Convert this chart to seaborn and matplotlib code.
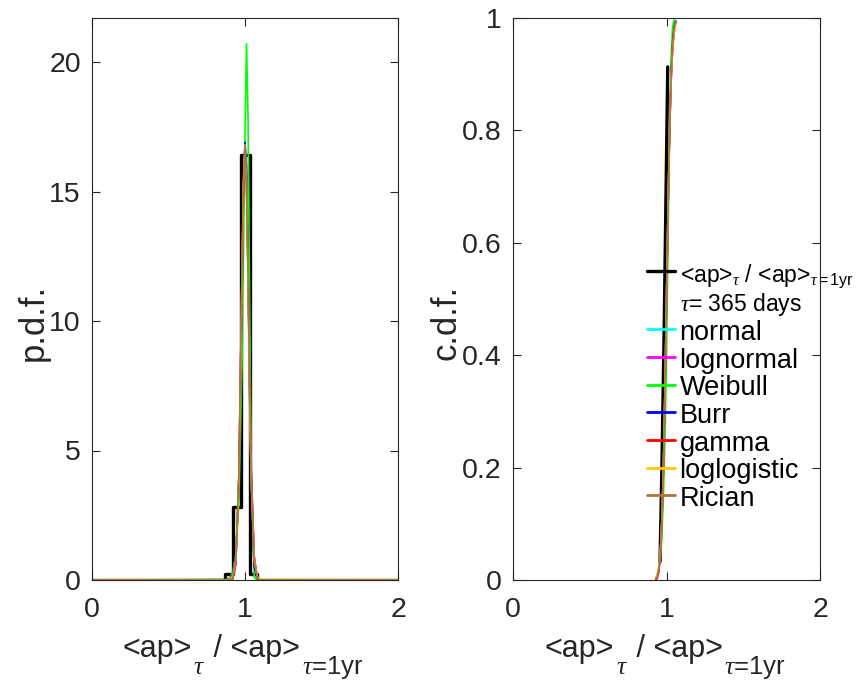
import matplotlib
matplotlib.use("Agg")
import matplotlib.pyplot as plt
from matplotlib.lines import Line2D
import seaborn as sns

# ---- data ----
hist_edges = [0.0, 0.872, 0.923, 0.974, 1.030, 1.080, 2.0]
hist_heights = [0.0, 0.22, 2.8, 16.4, 0.22, 0.0, 0.0]

pdf_x = [0, 0.88, 0.90, 0.92, 0.94, 0.96, 0.98, 0.99, 1.00, 1.01, 1.02, 1.03, 1.04, 1.06, 1.08, 1.10, 2]
normal_pdf = [0, 0, 0.003, 0.065, 0.73, 4.1, 11.7, 15.2, 16.6, 15.2, 11.7, 7.6, 4.1, 0.73, 0.065, 0.003, 0]
lognormal_pdf = [0, 0, 0.001, 0.04, 0.6, 3.9, 11.8, 15.6, 16.8, 15.4, 12.0, 7.9, 4.5, 0.95, 0.11, 0.007, 0]
weibull_pdf = [0, 0.02, 0.08, 0.3, 1.0, 3.0, 8.2, 12.5, 17.3, 20.7, 17.8, 11.0, 4.5, 0.1, 0, 0, 0]
burr_pdf = [0, 0.01, 0.04, 0.2, 0.9, 3.6, 10.5, 15.0, 16.9, 16.0, 12.0, 7.2, 3.6, 0.5, 0.05, 0.005, 0]
gamma_pdf = [0, 0, 0.002, 0.05, 0.65, 4.0, 11.8, 15.4, 16.7, 15.3, 11.9, 7.8, 4.3, 0.85, 0.09, 0.005, 0]
loglogistic_pdf = [0, 0.005, 0.03, 0.15, 0.8, 3.7, 11.0, 15.3, 16.8, 15.3, 11.3, 7.0, 3.9, 0.8, 0.12, 0.02, 0]
rician_pdf = [0, 0, 0.003, 0.065, 0.73, 4.1, 11.7, 15.2, 16.8, 15.2, 11.7, 7.6, 4.1, 0.73, 0.065, 0.003, 0]

emp_cdf_x = [0.958, 0.970, 0.985, 1.000, 1.008]
emp_cdf_y = [0.033, 0.20, 0.45, 0.75, 0.913]

cdf_x = [0.93, 0.94, 0.95, 0.96, 0.97, 0.98, 0.99, 1.00, 1.01, 1.02, 1.03, 1.04, 1.05, 1.06]
normal_cdf = [0.002, 0.006, 0.019, 0.048, 0.106, 0.20, 0.34, 0.50, 0.66, 0.80, 0.894, 0.952, 0.981, 0.994]
lognormal_cdf = [0.0, 0.003, 0.014, 0.042, 0.10, 0.20, 0.34, 0.50, 0.66, 0.79, 0.885, 0.945, 0.977, 0.992]
weibull_cdf = [0.003, 0.01, 0.02, 0.04, 0.08, 0.15, 0.25, 0.40, 0.60, 0.80, 0.93, 0.985, 0.999, 1.0]
burr_cdf = [0.002, 0.008, 0.02, 0.05, 0.11, 0.20, 0.33, 0.49, 0.66, 0.80, 0.90, 0.957, 0.984, 0.995]
gamma_cdf = [0.001, 0.005, 0.017, 0.046, 0.104, 0.20, 0.34, 0.50, 0.66, 0.80, 0.89, 0.949, 0.979, 0.993]
loglogistic_cdf = [0.004, 0.01, 0.024, 0.052, 0.11, 0.20, 0.34, 0.50, 0.66, 0.80, 0.89, 0.945, 0.972, 0.986]
rician_cdf = [0.002, 0.006, 0.019, 0.048, 0.106, 0.20, 0.34, 0.50, 0.66, 0.80, 0.894, 0.952, 0.981, 0.994]

fit_names = ["normal", "lognormal", "Weibull", "Burr", "gamma", "loglogistic", "Rician"]
fit_colors = ["#00ffff", "#ff00ff", "#00ff00", "#0000ff", "#ff0000", "#ffc800", "#a8773f"]
fit_pdfs = [normal_pdf, lognormal_pdf, weibull_pdf, burr_pdf, gamma_pdf, loglogistic_pdf, rician_pdf]
fit_cdfs = [normal_cdf, lognormal_cdf, weibull_cdf, burr_cdf, gamma_cdf, loglogistic_cdf, rician_cdf]

pdf_yticks = [0, 5, 10, 15, 20]
cdf_yticks = [0, 0.2, 0.4, 0.6, 0.8, 1]
cdf_yticklabels = ["0", "0.2", "0.4", "0.6", "0.8", "1"]
x_ticks = [0, 1, 2]

xlabel_parts = ["<ap>", r"$\tau$", " / <ap>", r"$\tau$=1yr"]
ylabels = ["p.d.f.", "c.d.f."]
emp_label_main = r"<ap>$_{\tau}$ / <ap>$_{\tau\mathrm{=1yr}}$"
emp_label_sub = r"$\tau$= 365 days"

# ---- style ----
sns.set_style("white")
plt.rcParams["font.family"] = ["Liberation Sans", "DejaVu Sans"]
plt.rcParams["mathtext.fontset"] = "custom"
plt.rcParams["mathtext.it"] = "Liberation Serif:italic"
plt.rcParams["mathtext.rm"] = "Liberation Sans"

fig = plt.figure(figsize=(8.6, 6.86), dpi=100)
ax1 = fig.add_axes([92 / 860, 1 - 580 / 686, (398 - 92) / 860, (580 - 18) / 686])
ax2 = fig.add_axes([513 / 860, 1 - 580 / 686, (820 - 513) / 860, (580 - 18) / 686])

axis_color = "#262626"

# left: pdf
sns.lineplot(x=hist_edges, y=hist_heights, ax=ax1, color="black", linewidth=2.4,
             drawstyle="steps-post", estimator=None, sort=False)
for name, col, ys in zip(fit_names, fit_colors, fit_pdfs):
    sns.lineplot(x=pdf_x, y=ys, ax=ax1, color=col, linewidth=1.2, estimator=None, sort=False)

# right: cdf
sns.lineplot(x=emp_cdf_x, y=emp_cdf_y, ax=ax2, color="black", linewidth=2.4,
             estimator=None, sort=False)
for name, col, ys in zip(fit_names, fit_colors, fit_cdfs):
    sns.lineplot(x=cdf_x, y=ys, ax=ax2, color=col, linewidth=1.2, estimator=None, sort=False)


def draw_xlabel(ax, x0, y0, main_size=22, sub_size=18.5, sub_drop=-12):
    prev = None
    for i, part in enumerate(xlabel_parts):
        is_sub = (i % 2 == 1)
        if prev is None:
            xyc = ("axes fraction", "axes fraction")
            xy = (x0, y0)
        else:
            xyc = (prev, "axes fraction")
            xy = (1, y0)
        dx = 1 if is_sub else 0
        dy = sub_drop if is_sub else 0
        prev = ax.annotate(part, xy=xy, xycoords=xyc, xytext=(dx, dy),
                           textcoords="offset points", ha="left", va="baseline",
                           fontsize=sub_size if is_sub else main_size,
                           color=axis_color, annotation_clip=False)


for ax, yl, lx in zip((ax1, ax2), ylabels, (-0.137, -0.163)):
    ax.set_xlim(0, 2)
    ax.set_xticks(x_ticks)
    ax.set_xticklabels([str(t) for t in x_ticks])
    for sp in ax.spines.values():
        sp.set_visible(True)
        sp.set_color(axis_color)
        sp.set_linewidth(0.8)
    ax.tick_params(direction="in", length=6, width=0.8, colors=axis_color,
                   labelsize=20.5, top=True, right=True, bottom=True, left=True)
    ax.tick_params(axis="x", pad=12)
    ax.tick_params(axis="y", pad=8)
    ax.set_xlabel("")
    ax.set_ylabel(yl, fontsize=25, color=axis_color)
    ax.yaxis.set_label_coords(lx, 0.459)

draw_xlabel(ax1, 0.10, -0.137)
draw_xlabel(ax2, 0.104, -0.137)

ax1.set_ylim(0, (580 - 18) / 25.9)
ax1.set_yticks(pdf_yticks)

ax2.set_ylim(0, 1)
ax2.set_yticks(cdf_yticks)
ax2.set_yticklabels(cdf_yticklabels)

handles = [Line2D([], [], color="black", linewidth=2.4),
           Line2D([], [], linestyle="none")]
labels = [emp_label_main, emp_label_sub]
for name, col in zip(fit_names, fit_colors):
    handles.append(Line2D([], [], color=col, linewidth=2))
    labels.append(name)
leg = ax2.legend(handles, labels, loc="upper left", bbox_to_anchor=(0.4365, 0.5695),
                 frameon=False, fontsize=19.5, handlelength=1.05, handletextpad=0.15,
                 handleheight=1.0, labelspacing=0.01, borderpad=0, borderaxespad=0)
texts = leg.get_texts()
for t in texts:
    t.set_color("black")
texts[0].set_fontsize(16.5)
texts[1].set_fontsize(16.5)

fig.savefig("out.png", dpi=100, facecolor="white")
